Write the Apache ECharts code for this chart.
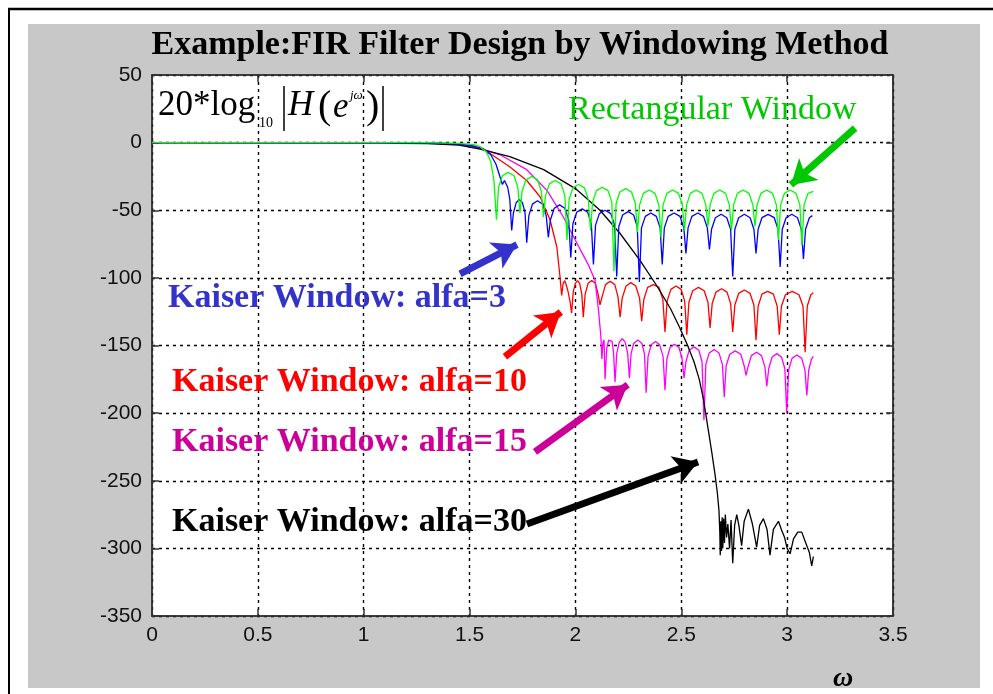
<!DOCTYPE html>
<html>
<head>
<meta charset="utf-8">
<script src="https://cdn.jsdelivr.net/npm/echarts@6/dist/echarts.min.js"></script>
<style>
html,body{margin:0;padding:0;background:#fff;}
#chart{width:993px;height:694px;}
</style>
</head>
<body>
<div id="chart"></div>
<script>
// ---------------- data ----------------
const xTicks = [0, 0.5, 1, 1.5, 2, 2.5, 3, 3.5];
const yTicks = [-350, -300, -250, -200, -150, -100, -50, 0, 50];

const rectWindow = [
[0,0],[1.3,0],[1.45,-0.5],[1.52,-1.5],[1.55,-3],[1.58,-7],[1.6,-14],[1.615,-28],[1.627,-57],
[1.637,-33],[1.655,-24.5],[1.682,-22],[1.71,-24.5],[1.728,-33],[1.738,-52],
[1.748,-36],[1.766,-27.5],[1.793,-25],[1.821,-27.5],[1.839,-36],[1.849,-55],
[1.859,-39],[1.877,-30.5],[1.904,-28],[1.932,-30.5],[1.95,-39],[1.96,-72],
[1.97,-42],[1.988,-33.5],[2.015,-31],[2.043,-33.5],[2.061,-42],[2.071,-65],
[2.081,-44],[2.099,-35.5],[2.126,-33],[2.154,-35.5],[2.172,-44],[2.182,-95],
[2.192,-45],[2.21,-36.5],[2.237,-34],[2.265,-36.5],[2.283,-45],[2.293,-66],
[2.303,-46],[2.321,-37.5],[2.348,-35],[2.376,-37.5],[2.394,-46],[2.404,-70],
[2.414,-46],[2.432,-37.5],[2.459,-35],[2.487,-37.5],[2.505,-46],[2.515,-65],
[2.525,-46],[2.543,-37.5],[2.57,-35],[2.598,-37.5],[2.616,-46],[2.626,-62],
[2.636,-46],[2.654,-37.5],[2.681,-35],[2.709,-37.5],[2.727,-46],[2.737,-65],
[2.747,-46],[2.765,-37.5],[2.792,-35],[2.82,-37.5],[2.838,-46],[2.848,-62],
[2.858,-46],[2.876,-37.5],[2.903,-35],[2.931,-37.5],[2.949,-46],[2.959,-72],
[2.969,-46],[2.987,-37.5],[3.014,-35],[3.042,-37.5],[3.06,-46],[3.07,-76],
[3.08,-46],[3.098,-37.5],[3.124,-36]
];

const kaiser3 = [
[0,0],[1.3,-0.2],[1.45,-1],[1.52,-2.5],[1.565,-4.5],[1.6,-9],[1.625,-16],[1.645,-26],[1.655,-31],[1.665,-28],[1.68,-33],[1.69,-42],[1.699,-65],
[1.707,-52],[1.72,-44.5],[1.735,-42],[1.75,-44.5],[1.762,-52],[1.77,-74],
[1.78,-54],[1.797,-45.5],[1.821,-43],[1.845,-45.5],[1.862,-54],[1.872,-70],
[1.882,-57],[1.9,-48.5],[1.925,-46],[1.95,-48.5],[1.968,-57],[1.978,-85],
[1.988,-60],[2.006,-51.5],[2.032,-49],[2.058,-51.5],[2.075,-60],[2.085,-90],
[2.095,-61],[2.113,-52.5],[2.14,-50],[2.167,-52.5],[2.185,-61],[2.195,-99],
[2.205,-62],[2.223,-53.5],[2.249,-51],[2.275,-53.5],[2.292,-62],[2.302,-103],
[2.312,-63],[2.33,-54.5],[2.356,-52],[2.382,-54.5],[2.4,-63],[2.41,-90],
[2.42,-63],[2.438,-54.5],[2.466,-52],[2.494,-54.5],[2.512,-63],[2.522,-82],
[2.532,-63],[2.55,-54.5],[2.578,-52],[2.605,-54.5],[2.623,-63],[2.633,-79],
[2.643,-64],[2.661,-55.5],[2.688,-53],[2.715,-55.5],[2.733,-64],[2.743,-99],
[2.753,-64],[2.771,-55.5],[2.798,-53],[2.825,-55.5],[2.843,-64],[2.853,-82],
[2.863,-64],[2.881,-55.5],[2.91,-53],[2.939,-55.5],[2.957,-64],[2.967,-92],
[2.977,-64],[2.995,-55.5],[3.022,-53],[3.049,-55.5],[3.067,-64],[3.077,-86],
[3.087,-64],[3.105,-55.5],[3.119,-54]
];

const kaiser10 = [
[0,0],[1.3,-0.2],[1.45,-1.2],[1.55,-4],[1.597,-8],[1.691,-18],[1.77,-28],[1.833,-40],[1.88,-57],[1.912,-77],[1.927,-99],[1.935,-113],
[1.942,-104],[1.95,-102],[1.958,-106],[1.965,-110],[1.975,-118],[1.982,-126],
[1.99,-110],[2.0,-104],[2.01,-102],[2.02,-104],[2.03,-112],[2.037,-129],
[2.046,-112],[2.06,-104],[2.077,-102],[2.094,-104],[2.107,-112],[2.116,-120],
[2.126,-114],[2.142,-105],[2.164,-102.5],[2.186,-105],[2.201,-114],[2.211,-129],
[2.221,-115],[2.239,-106],[2.262,-103.5],[2.285,-106],[2.303,-115],[2.313,-132],
[2.323,-116],[2.341,-107],[2.368,-105],[2.395,-107],[2.413,-116],[2.423,-140],
[2.433,-117],[2.451,-108.5],[2.475,-106],[2.499,-108.5],[2.516,-117],[2.526,-142],
[2.536,-118],[2.554,-109.5],[2.581,-107],[2.608,-109.5],[2.626,-118],[2.636,-137],
[2.646,-119],[2.664,-110.5],[2.69,-108],[2.716,-110.5],[2.733,-119],[2.743,-140],
[2.753,-120],[2.771,-111.5],[2.798,-109],[2.825,-111.5],[2.843,-120],[2.853,-146],
[2.863,-121],[2.881,-112],[2.908,-110],[2.935,-112],[2.953,-121],[2.963,-142],
[2.973,-121],[2.992,-112.5],[3.024,-110],[3.056,-112.5],[3.075,-121],[3.085,-155],
[3.095,-121],[3.112,-112.5],[3.124,-111]
];

const kaiser15 = [
[0,0],[1.3,-0.3],[1.45,-1.2],[1.55,-4.3],[1.644,-9],[1.77,-20],[1.864,-35],[1.943,-55],[2.006,-74],[2.06,-90],[2.093,-102],[2.109,-124],[2.12,-143],[2.125,-160],
[2.13,-148],[2.135,-146],[2.14,-175],[2.148,-152],[2.157,-146],[2.165,-145],[2.173,-147],[2.18,-155],[2.187,-177],
[2.195,-156],[2.207,-147.5],[2.221,-145],[2.235,-147.5],[2.247,-156],[2.255,-174],
[2.263,-156],[2.275,-148.5],[2.295,-146],[2.314,-148.5],[2.326,-156],[2.334,-185],
[2.343,-158],[2.358,-149.5],[2.378,-147],[2.398,-149.5],[2.414,-158],[2.423,-183],
[2.432,-160],[2.447,-151.5],[2.468,-149],[2.489,-151.5],[2.504,-160],[2.513,-174],
[2.522,-162],[2.537,-153.5],[2.56,-151],[2.583,-153.5],[2.598,-162],[2.607,-205],
[2.616,-164],[2.632,-155.5],[2.655,-153],[2.678,-155.5],[2.694,-164],[2.703,-188],
[2.712,-165],[2.729,-156.5],[2.755,-154],[2.781,-156.5],[2.797,-165],[2.806,-172],
[2.815,-166],[2.831,-157.5],[2.855,-155],[2.879,-157.5],[2.895,-166],[2.904,-180],
[2.913,-167],[2.929,-158.5],[2.951,-156],[2.973,-158.5],[2.989,-167],[2.998,-200],
[3.007,-168],[3.023,-159.5],[3.046,-157],[3.069,-159.5],[3.084,-168],[3.093,-187],
[3.102,-168],[3.115,-160],[3.124,-158]
];

const kaiser30 = [
[0,0],[1.1,0],[1.16,-0.6],[1.3,-0.8],[1.45,-1.8],[1.55,-4.8],[1.69,-10.4],[1.85,-20],[2.0,-34],[2.116,-50],[2.21,-67],[2.305,-87],[2.385,-106],[2.45,-123],[2.49,-136],[2.53,-150],[2.56,-162],[2.585,-175],[2.605,-190],[2.628,-213],[2.645,-230],[2.66,-246],[2.671,-260],[2.678,-272],[2.682,-288],[2.684,-305],
[2.687,-280],[2.69,-302],[2.693,-277],[2.696,-300],[2.7,-278],[2.704,-296],[2.708,-275],[2.714,-292],[2.72,-282],[2.728,-300],[2.735,-279],[2.743,-311],[2.752,-283],[2.762,-275],[2.772,-283],[2.785,-298],[2.797,-280],[2.817,-271],[2.836,-282],[2.856,-299],[2.87,-283],[2.888,-278],[2.905,-286],[2.919,-305],[2.935,-286],[2.959,-280],[2.975,-287],[2.988,-292],[3.0,-300],[3.014,-304],[3.03,-293],[3.05,-288],[3.069,-288],[3.088,-296],[3.105,-303],[3.116,-313],[3.124,-306]
];

// annotation arrows: [xFrom, yFrom, xTo, yTo] in data units
const arrowRect = [3.321, 10.8, 3.018, -31.3];
const arrowK3 = [1.455, -97.1, 1.724, -75.4];
const arrowK10 = [1.667, -158.3, 1.931, -125.2];
const arrowK15 = [1.809, -228.6, 2.247, -179];
const arrowK30 = [1.771, -282, 2.579, -236.1];

// ---------------- chart ----------------
const serif = '"Liberation Serif","Times New Roman",serif';
const chart = echarts.init(document.getElementById('chart'), null, {renderer: 'canvas'});

function arrowMark(a, color) {
  return {
    silent: true,
    animation: false,
    symbol: ['none', 'arrow'],
    symbolSize: [22, 24],
    label: {show: false},
    emphasis: {disabled: true},
    lineStyle: {color: color, width: 7, type: 'solid', opacity: 1},
    itemStyle: {color: color},
    data: [[{coord: [a[0], a[1]]}, {coord: [a[2], a[3]]}]]
  };
}

function lineSeries(name, data, color, arrow, arrowColor) {
  return {
    type: 'line',
    name: name,
    data: data,
    xAxisIndex: 0,
    yAxisIndex: 0,
    symbol: 'none',
    showSymbol: false,
    silent: true,
    animation: false,
    clip: true,
    lineStyle: {color: color, width: 1.3},
    itemStyle: {color: color},
    emphasis: {disabled: true},
    markLine: arrowMark(arrow, arrowColor)
  };
}

function text(t, x, y, font, fill, align) {
  return {
    type: 'text', x: x, y: y, z: 100,
    style: {text: t, font: font, fill: fill, align: align || 'left', textAlign: align || 'left',
            verticalAlign: 'middle', textVerticalAlign: 'middle'}
  };
}

const gridLine = {color: '#000', type: [3, 4], width: 1.4};
const axisLabelStyle = {color: '#111', fontSize: 21, fontFamily: '"Liberation Sans",Arial,sans-serif'};

const option = {
  animation: false,
  backgroundColor: '#fff',
  grid: {left: 152, top: 75, width: 741, height: 541, show: true, backgroundColor: '#fff', borderColor: '#333', borderWidth: 1.5, containLabel: false},
  xAxis: [{
    type: 'value', min: 0, max: 3.5, interval: 0.5, position: 'bottom',
    axisLine: {show: true, onZero: false, lineStyle: {color: '#333', width: 1.5}},
    axisTick: {show: true, inside: true, length: 7, lineStyle: {color: '#333', width: 1.5}},
    axisLabel: Object.assign({margin: 9, formatter: v => String(xTicks.find(t => Math.abs(t - v) < 1e-9) ?? v)}, axisLabelStyle),
    splitLine: {show: true, lineStyle: gridLine}
  }, {
    type: 'value', min: 0, max: 3.5, interval: 0.5, position: 'top',
    axisLine: {show: true, onZero: false, lineStyle: {color: '#333', width: 1.5}},
    axisTick: {show: true, inside: true, length: 7, lineStyle: {color: '#333', width: 1.5}},
    axisLabel: {show: false}, splitLine: {show: false}
  }],
  yAxis: [{
    type: 'value', min: -350, max: 50, interval: 50, position: 'left',
    axisLine: {show: true, onZero: false, lineStyle: {color: '#333', width: 1.5}},
    axisTick: {show: true, inside: true, length: 7, lineStyle: {color: '#333', width: 1.5}},
    axisLabel: Object.assign({margin: 10, formatter: v => String(yTicks.find(t => t === v) ?? v)}, axisLabelStyle),
    splitLine: {show: true, lineStyle: gridLine}
  }, {
    type: 'value', min: -350, max: 50, interval: 50, position: 'right',
    axisLine: {show: true, onZero: false, lineStyle: {color: '#333', width: 1.5}},
    axisTick: {show: true, inside: true, length: 7, lineStyle: {color: '#333', width: 1.5}},
    axisLabel: {show: false}, splitLine: {show: false}
  }],
  series: [
    lineSeries('Kaiser Window: alfa=10', kaiser10, '#ff0000', arrowK10, '#ff0000'),
    lineSeries('Kaiser Window: alfa=15', kaiser15, '#ff00ff', arrowK15, '#cc0099'),
    lineSeries('Kaiser Window: alfa=30', kaiser30, '#000000', arrowK30, '#000000'),
    lineSeries('Kaiser Window: alfa=3', kaiser3, '#0000ff', arrowK3, '#3333cc'),
    lineSeries('Rectangular Window', rectWindow, '#00ff00', arrowRect, '#00c800')
  ],
  graphic: [
    {type: 'rect', z: -10, silent: true, shape: {x: 28, y: 24, width: 952, height: 664}, style: {fill: '#c8c8c8'}},
    {type: 'line', z: 100, silent: true, shape: {x1: 8, y1: 9, x2: 993, y2: 9}, style: {stroke: '#000', lineWidth: 2.5}},
    {type: 'line', z: 100, silent: true, shape: {x1: 9, y1: 8, x2: 9, y2: 694}, style: {stroke: '#000', lineWidth: 2}},
    text('Example:FIR Filter Design by Windowing Method', 520, 45, 'bold 34px ' + serif, '#000', 'center'),
    text('Rectangular Window', 568, 110, '34px ' + serif, '#00c800'),
    text('Kaiser Window: alfa=3', 168, 298, 'bold 34px ' + serif, '#3333cc'),
    text('Kaiser Window: alfa=10', 172, 382, 'bold 34px ' + serif, '#ff0000'),
    text('Kaiser Window: alfa=15', 172, 442, 'bold 34px ' + serif, '#cc0099'),
    text('Kaiser Window: alfa=30', 172, 522, 'bold 34px ' + serif, '#000000'),
    text('20*log', 158, 106, '35px ' + serif, '#000'),
    text('10', 259, 123, '14px ' + serif, '#000'),
    {type: 'line', z: 100, silent: true, shape: {x1: 284, y1: 86, x2: 284, y2: 131}, style: {stroke: '#000', lineWidth: 1.5}},
    text('H', 288, 106, 'italic 35px ' + serif, '#000'),
    text('(', 318, 107, '40px ' + serif, '#000'),
    text('e', 333, 108, 'italic 35px ' + serif, '#000'),
    text('jω', 350, 96, 'italic 13px ' + serif, '#000'),
    text(')', 366, 107, '40px ' + serif, '#000'),
    {type: 'line', z: 100, silent: true, shape: {x1: 383, y1: 86, x2: 383, y2: 131}, style: {stroke: '#000', lineWidth: 1.5}},
    text('ω', 833, 679, 'italic bold 28px ' + serif, '#000')
  ]
};
chart.setOption(option);
</script>
</body>
</html>
